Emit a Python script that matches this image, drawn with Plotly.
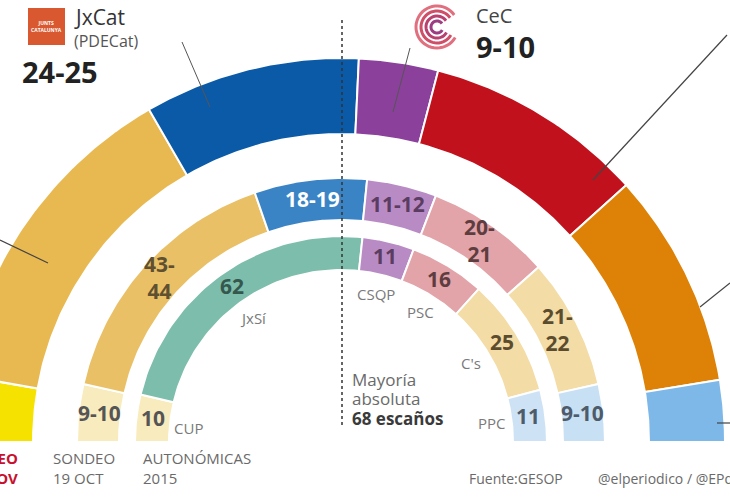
import numpy as np
import plotly.graph_objects as go

# Anillo interior: autonómicas 2015
parties_2015 = ["CUP", "JxSí", "CSQP", "PSC", "C's", "PPC"]
seats_2015 = [10, 62, 11, 16, 25, 11]
labels_2015 = ["10", "62", "11", "16", "25", "11"]
colors_2015 = ["#f8ebbd", "#7dbdab", "#b98bc5", "#e2a3a9", "#f3dca6", "#cde3f5"]
textcol_2015 = ["#555555", "#35574e", "#5b3d62", "#5e3d40", "#5c4c2e", "#4d5b6a"]

# Anillo medio: sondeo 19 oct (punto medio de cada horquilla)
seats_oct = [9.5, 43.5, 18.5, 11.5, 20.5, 21.5, 9.5]
labels_oct = ["9-10", "43-<br>44", "18-19", "11-12", "20-<br>21", "21-<br>22", "9-10"]
colors_oct = ["#f8ebbd", "#eac067", "#3a84c6", "#b98bc5", "#e2a3a9", "#f3dca6", "#c8e0f4"]
textcol_oct = ["#555555", "#5e5030", "#ffffff", "#5b3d62", "#5e3d40", "#5c4c2e", "#4d5b6a"]

# Anillo exterior: sondeo noviembre
seats_nov = [7.5, 37.5, 24.5, 9, 25, 24.5, 7]
colors_nov = ["#f5e200", "#e9b951", "#0a5aa8", "#8b409b", "#c0111d", "#de8207", "#7eb8e8"]

rings = [
    (seats_2015, colors_2015, 172, 206),
    (seats_oct, colors_oct, 222, 264),
    (seats_nov, colors_nov, 308, 384),
]

FONT = "Open Sans"

fig = go.Figure()


def arc(r, a0, a1, n=60):
    t = np.radians(np.linspace(a0, a1, n))
    return r * np.cos(t), r * np.sin(t)


def mid_angle(seats, i):
    cum = np.cumsum([0] + list(seats))
    return 180 - (cum[i] + cum[i + 1]) / 2 / cum[-1] * 180


for seats, colors, r_in, r_out in rings:
    cum = np.cumsum([0] + list(seats))
    ang = 180 - cum / cum[-1] * 180
    for i in range(len(seats)):
        xo, yo = arc(r_out, ang[i], ang[i + 1])
        xi, yi = arc(r_in, ang[i + 1], ang[i])
        fig.add_trace(go.Scatter(
            x=np.concatenate([xo, xi, xo[:1]]),
            y=np.concatenate([yo, yi, yo[:1]]),
            fill="toself", fillcolor=colors[i], mode="lines",
            line=dict(color="white", width=2), hoverinfo="skip"
        ))

annotations = []

# cifras del anillo interior y nombres de partido
for i in range(len(seats_2015)):
    a = np.radians(mid_angle(seats_2015, i))
    annotations.append(dict(x=189 * np.cos(a), y=189 * np.sin(a) + 2, text="<b>%s</b>" % labels_2015[i],
                            font=dict(size=21, color=textcol_2015[i], family=FONT)))
    if i == 0:
        annotations.append(dict(x=-169, y=14, text=parties_2015[i], xanchor="left",
                                font=dict(size=15, color="#7a7a7a", family=FONT)))
    else:
        annotations.append(dict(x=152 * np.cos(a), y=152 * np.sin(a), text=parties_2015[i],
                                font=dict(size=15, color="#7a7a7a", family=FONT)))

# cifras del anillo medio
for i in range(len(seats_oct)):
    a = np.radians(mid_angle(seats_oct, i))
    annotations.append(dict(x=243 * np.cos(a), y=243 * np.sin(a) + 2, text="<b>%s</b>" % labels_oct[i],
                            font=dict(size=21, color=textcol_oct[i], family=FONT)))

# cabeceras y textos
annotations += [
    dict(x=-269, y=425, text="JxCat", xanchor="left", font=dict(size=21, color="#333333", family=FONT)),
    dict(x=-269, y=401, text="(PDECat)", xanchor="left", font=dict(size=16, color="#555555", family=FONT)),
    dict(x=-321, y=371, text="<b>24-25</b>", xanchor="left", font=dict(size=29, color="#222222", family=FONT)),
    dict(x=-294.5, y=415.5, text="<b>JUNTS<br>CATALUNYA</b>", font=dict(size=5, color="white", family=FONT)),
    dict(x=133, y=427, text="CeC", xanchor="left", font=dict(size=20, color="#444444", family=FONT)),
    dict(x=133, y=396, text="<b>9-10</b>", xanchor="left", font=dict(size=29, color="#222222", family=FONT)),
    dict(x=9, y=63, text="Mayoría", xanchor="left", font=dict(size=17, color="#6a6a6a", family=FONT)),
    dict(x=9, y=44, text="absoluta", xanchor="left", font=dict(size=17, color="#6a6a6a", family=FONT)),
    dict(x=9, y=24, text="<b>68 escaños</b>", xanchor="left", font=dict(size=17, color="#3a3a3a", family=FONT)),
    dict(x=-290, y=-26, text="SONDEO<br>19 OCT", xanchor="left", align="left",
         font=dict(size=15, color="#6a6a6a", family=FONT)),
    dict(x=-200, y=-26, text="AUTONÓMICAS<br>2015", xanchor="left", align="left",
         font=dict(size=15, color="#6a6a6a", family=FONT)),
    dict(x=-321, y=-26, text="<b>SONDEO<br>NOV</b>", xanchor="right", align="right",
         font=dict(size=15, color="#c8102e", family=FONT)),
    dict(x=126, y=-36, text="Fuente:GESOP", xanchor="left", font=dict(size=14, color="#6a6a6a", family=FONT)),
    dict(x=255, y=-36, text="@elperiodico / @EPdatos", xanchor="left",
         font=dict(size=14, color="#6a6a6a", family=FONT)),
]
for an in annotations:
    an.setdefault("showarrow", False)

shapes = [
    # línea de mayoría absoluta
    dict(type="line", x0=1, x1=1, y0=17, y1=422, line=dict(color="#333333", width=1.5, dash="dot")),
    # líneas de llamada
    dict(type="line", x0=-159, y0=400, x1=-131, y1=335, line=dict(color="#555555", width=1)),
    dict(type="line", x0=69, y0=394, x1=52, y1=330, line=dict(color="#555555", width=1)),
    dict(type="line", x0=386, y0=407, x1=252, y1=262, line=dict(color="#444444", width=1.2)),
    dict(type="line", x0=359, y0=135, x1=389, y1=159, line=dict(color="#444444", width=1.2)),
    dict(type="line", x0=376, y0=19, x1=389, y1=19, line=dict(color="#444444", width=1.2)),
    dict(type="line", x0=-341, y0=202, x1=-293, y1=179, line=dict(color="#444444", width=1.2)),
    # logo JxCat
    dict(type="rect", x0=-313, x1=-276, y0=397, y1=434, fillcolor="#d9582f", line=dict(width=0)),
]

# logo CeC: arcos concéntricos
logo_cols = ["#9c3c82", "#b8416f", "#cf4f68", "#e0707f"]
for k, rr in enumerate([6, 11, 16, 21]):
    xs, ys = arc(rr, 35, 330, 40)
    path = "M " + " L ".join("%.1f,%.1f" % (96 + a, 415 + b) for a, b in zip(xs, ys))
    shapes.append(dict(type="path", path=path, line=dict(color=logo_cols[k], width=3)))

fig.update_layout(
    width=730, height=500,
    margin=dict(l=0, r=0, t=0, b=0),
    showlegend=False,
    plot_bgcolor="white", paper_bgcolor="white",
    xaxis=dict(range=[-341, 389], visible=False, fixedrange=True),
    yaxis=dict(range=[-58, 442], visible=False, fixedrange=True),
    annotations=annotations,
    shapes=shapes,
)

fig.write_html("out.html", config={"displayModeBar": False},
               post_script="document.body.style.margin='0px';")
